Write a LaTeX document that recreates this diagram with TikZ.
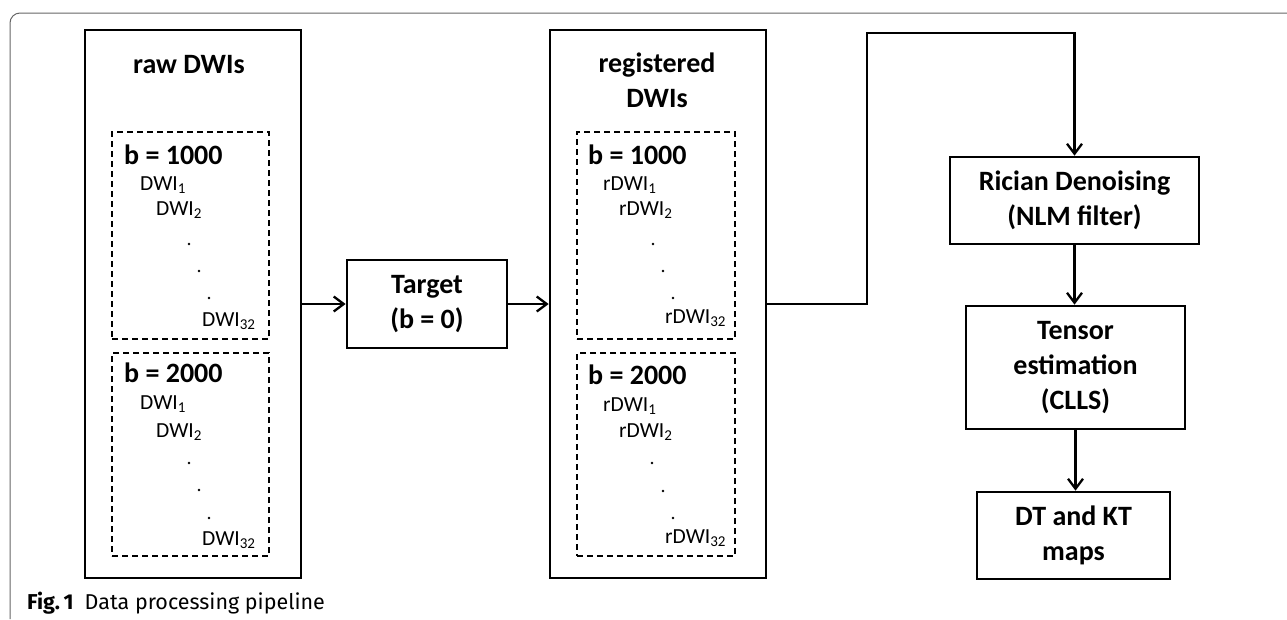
\documentclass[tikz,border=0pt]{standalone}
\usepackage{fontspec}
\setmainfont{Carlito}
\newfontfamily\capfont{Fira Sans}
\usetikzlibrary{arrows.meta}
\begin{document}
\begin{tikzpicture}[x=1pt,y=-1pt,
  box/.style={draw,line width=2.7pt,inner sep=0pt},
  dbox/.style={draw,line width=1.4pt,dash pattern=on 6pt off 4pt,inner sep=0pt},
  ttl/.style={font=\fontsize{28}{35}\selectfont\bfseries,align=center,inner sep=0pt},
  bval/.style={font=\fontsize{28}{30}\selectfont\bfseries,anchor=west,inner sep=0pt},
  lbl/.style={font=\fontsize{21.5}{24}\selectfont,anchor=west,inner sep=0pt},
  dotn/.style={fill,circle,inner sep=0pt,minimum size=2.8pt},
  conn/.style={line width=2.3pt,-{Straight Barb[length=10pt,width=15pt,line width=2.3pt]}}]
\useasboundingbox (0,0) rectangle (1287,619);
% outer frame
\draw[black!60,line width=1pt,rounded corners=10pt] (10,619) -- (10,13) -- (1287,13);

% raw DWIs
\node[box,minimum width=216pt,minimum height=548pt] (raw) at (193,304) {};
\node[ttl] (rawt) at (189,65) {raw DWIs};
\node[dbox,minimum width=157pt,minimum height=207pt] (raw1) at (190.5,235.5) {};
\node[dbox,minimum width=157pt,minimum height=203pt] (raw2) at (190.5,454.5) {};
\node[bval] (rb1) at (124,155) {b = 1000};
\node[lbl] (ra1) at (140,185) {DWI\textsubscript{1}};
\node[lbl] (ra2) at (156,210) {DWI\textsubscript{2}};
\node[dotn] (rd1) at (189,244) {};
\node[dotn] (rd2) at (199,271) {};
\node[dotn] (rd3) at (209,298) {};
\node[lbl] (ra3) at (202,321) {DWI\textsubscript{32}};
\node[bval] (rb2) at (124,373) {b = 2000};
\node[lbl] (rc1) at (140,404) {DWI\textsubscript{1}};
\node[lbl] (rc2) at (156,432) {DWI\textsubscript{2}};
\node[dotn] (re1) at (189,463) {};
\node[dotn] (re2) at (199,490) {};
\node[dotn] (re3) at (209,518) {};
\node[lbl] (rc3) at (202,540) {DWI\textsubscript{32}};

% target
\node[box,ttl,minimum width=160pt,minimum height=88pt] (target) at (427,304) {Target\\(b = 0)};

% registered DWIs
\node[box,minimum width=216pt,minimum height=548pt] (reg) at (658,304) {};
\node[ttl] (regt) at (657,80.5) {registered\\DWIs};
\node[dbox,minimum width=158pt,minimum height=207pt] (reg1) at (656,235.5) {};
\node[dbox,minimum width=158pt,minimum height=203pt] (reg2) at (656,454.5) {};
\node[bval] (gb1) at (588,155) {b = 1000};
\node[lbl] (ga1) at (603,185) {rDWI\textsubscript{1}};
\node[lbl] (ga2) at (619,210) {rDWI\textsubscript{2}};
\node[dotn] (gd1) at (653,244) {};
\node[dotn] (gd2) at (663,271) {};
\node[dotn] (gd3) at (673,298) {};
\node[lbl] (ga3) at (665,318) {rDWI\textsubscript{32}};
\node[bval] (gb2) at (588,375) {b = 2000};
\node[lbl] (gc1) at (603,406) {rDWI\textsubscript{1}};
\node[lbl] (gc2) at (619,432) {rDWI\textsubscript{2}};
\node[dotn] (ge1) at (652,463) {};
\node[dotn] (ge2) at (663,491) {};
\node[dotn] (ge3) at (673,518) {};
\node[lbl] (gc3) at (665,538) {rDWI\textsubscript{32}};

% right column
\node[box,ttl,minimum width=249pt,minimum height=87pt] (rician) at (1074.5,200.5) {Rician Denoising\\(NLM filter)};
\node[box,ttl,minimum width=219pt,minimum height=123pt] (tensor) at (1075.5,367.5) {Tensor\\estimation\\(CLLS)};
\node[box,ttl,minimum width=193pt,minimum height=87pt] (dt) at (1073.5,535.5) {DT and KT\\maps};

% connectors
\draw[conn] (raw.east |- target.west) -- (target.west);
\draw[conn] (target.east) -- (target.east -| reg.west);
\coordinate (b1) at (867,304);
\coordinate (b2) at (867,33);
\draw[conn] (target.east -| reg.east) -- (b1) -- (b2) -- (b2 -| rician.north) -- (rician.north);
\draw[conn] (rician.south) -- (rician.south |- tensor.north);
\draw[conn] (tensor.south) -- (tensor.south |- dt.north);

% caption
\node[anchor=west,inner sep=0pt,font=\capfont\fontsize{21.5}{24}\selectfont] (cap) at (27,603) {\textbf{Fig.\,1}\hspace{11pt}Data processing pipeline};
\end{tikzpicture}
\end{document}
